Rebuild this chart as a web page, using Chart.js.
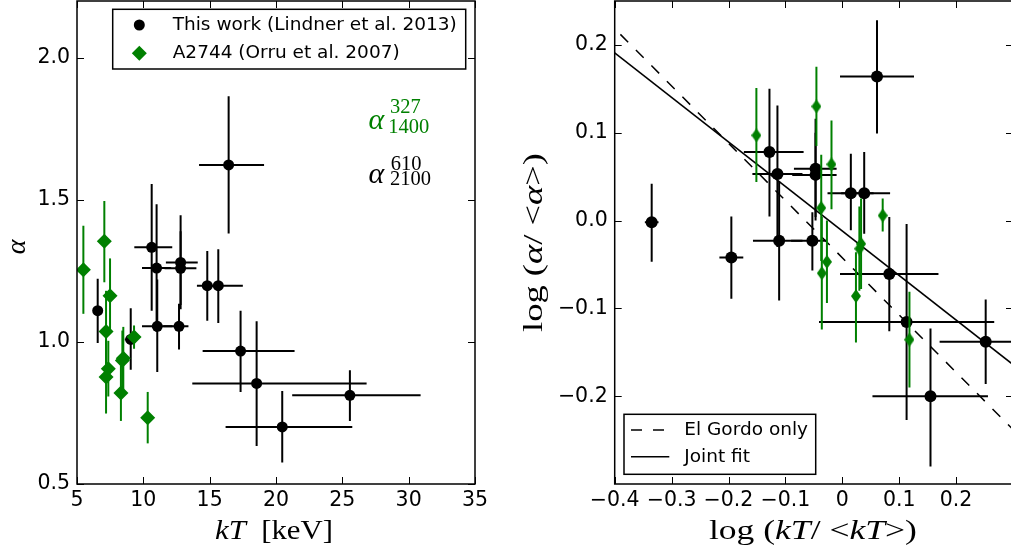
<!DOCTYPE html>
<html>
<head>
<meta charset="utf-8">
<script src="https://cdn.jsdelivr.net/npm/chart.js@4.4.1/dist/chart.umd.min.js"></script>
<style>
html, body { margin: 0; padding: 0; background: #fff; overflow: hidden; width: 1011px; height: 554px; }
canvas { position: absolute; top: 0; }
#left { left: 0; }
#right { left: 510px; }
</style>
</head>
<body>
<canvas id="left" width="500" height="554" style="width:500px;height:554px"></canvas>
<canvas id="right" width="510" height="554" style="width:510px;height:554px"></canvas>
<script>
// ---- left panel: alpha vs kT ----
const kT      = [6.56, 9.05, 10.63, 11.0, 11.05, 12.69, 12.81, 12.81, 14.82, 15.65, 16.43, 17.33, 18.54, 20.47, 25.57];
const kTLo    = [6.38, 8.6, 9.32, 9.9, 9.9, 11.5, 11.7, 11.6, 14.04, 14.8, 14.2, 14.47, 13.69, 16.2, 21.22];
const kTHi    = [6.74, 9.5, 12.18, 12.1, 12.2, 13.4, 14.1, 14.0, 15.5, 17.5, 19.1, 21.4, 26.83, 25.75, 30.9];
const alpha   = [1.11, 1.009, 1.333, 1.26, 1.055, 1.055, 1.28, 1.259, 1.198, 1.198, 1.623, 0.968, 0.854, 0.701, 0.812];
const alphaLo = [0.996, 0.902, 1.11, 1.035, 0.894, 0.973, 1.115, 1.13, 1.075, 1.067, 1.382, 0.824, 0.634, 0.576, 0.722];
const alphaHi = [1.222, 1.119, 1.556, 1.485, 1.22, 1.134, 1.446, 1.39, 1.32, 1.326, 1.865, 1.11, 1.073, 0.827, 0.9];

const kTA      = [5.48, 7.06, 7.49, 7.19, 7.36, 7.19, 8.49, 8.42, 8.31, 9.3, 10.33];
const alphaA   = [1.254, 1.354, 1.163, 1.037, 0.906, 0.877, 0.943, 0.935, 0.82, 1.017, 0.733];
const alphaALo = [1.099, 1.21, 1.03, 0.894, 0.808, 0.748, 0.833, 0.83, 0.722, 0.976, 0.643];
const alphaAHi = [1.409, 1.496, 1.294, 1.18, 1.004, 1.006, 1.053, 1.04, 0.918, 1.058, 0.824];

const kTTicks = [5, 10, 15, 20, 25, 30, 35];
const alphaTicks = [0.5, 1.0, 1.5, 2.0];

// ---- right panel: log(alpha/<alpha>) vs log(kT/<kT>) ----
const logKT   = [-0.335, -0.195, -0.128, -0.114, -0.111, -0.0526, -0.047, -0.047, 0.015, 0.0385, 0.061, 0.0826, 0.113, 0.155, 0.252];
const logKTLo = [-0.347, -0.216, -0.173, -0.158, -0.157, -0.09, -0.085, -0.088, -0.026, -0.002, -0.004, -0.004, -0.041, 0.053, 0.171];
const logKTHi = [-0.323, -0.174, -0.068, -0.07, -0.07, -0.027, -0.01, -0.01, 0.055, 0.084, 0.126, 0.169, 0.267, 0.256, 0.33];
const logA    = [-0.002, -0.042, 0.078, 0.053, -0.023, -0.023, 0.059, 0.052, 0.031, 0.031, 0.164, -0.061, -0.1155, -0.2, -0.138];
const logALo  = [-0.047, -0.089, 0.0045, -0.03, -0.091, -0.057, 0.004, 0.0, -0.011, -0.015, 0.099, -0.126, -0.227, -0.28, -0.186];
const logAHi  = [0.042, 0.0045, 0.150, 0.131, 0.045, 0.0095, 0.116, 0.1, 0.076, 0.078, 0.228, 0.004, -0.004, -0.123, -0.09];

const logKTA  = [-0.151, -0.0455, -0.019, -0.037, -0.027, -0.036, 0.033, 0.03, 0.024, 0.071, 0.118];
const logAA   = [0.097, 0.13, 0.064, 0.0144, -0.047, -0.06, -0.0265, -0.032, -0.086, 0.0057, -0.1356];
const logAALo = [0.044, 0.085, 0.013, -0.046, -0.094, -0.124, -0.078, -0.08, -0.139, -0.0125, -0.19];
const logAAHi = [0.151, 0.175, 0.114, 0.075, 0.0, 0.004, 0.025, 0.016, -0.036, 0.025, -0.081];

const gordoX = [-0.39, 0.3];
const gordoY = [0.212, -0.238];
const jointX = [-0.4, 0.3];
const jointY = [0.191, -0.164];

const logKTTicks = [-0.4, -0.3, -0.2, -0.1, 0.0, 0.1, 0.2];
const logATicks = [-0.2, -0.1, 0.0, 0.1, 0.2];

const GREEN = '#008000';
const SANS = '"DejaVu Sans"';
const SERIF = '"Liberation Serif"';

function pts(xs, ys) { return xs.map((x, i) => ({ x: x, y: ys[i] })); }
function fmt(v) { return (v < 0 ? '\u2212' : '') + Math.abs(v).toFixed(1); }

function thinDiamond(w, h, color) {
  const c = document.createElement('canvas');
  c.width = w; c.height = h;
  const g = c.getContext('2d');
  g.fillStyle = color;
  g.beginPath();
  g.moveTo(w / 2, 0); g.lineTo(w, h / 2); g.lineTo(w / 2, h); g.lineTo(0, h / 2);
  g.closePath(); g.fill();
  return c;
}

// error bars are drawn just before each dataset's own markers
const errorBars = {
  id: 'errorBars',
  beforeDatasetDraw(chart, args) {
    const ds = chart.data.datasets[args.index];
    if (!ds.err) return;
    const xs = chart.scales.x, ys = chart.scales.y, a = chart.chartArea, ctx = chart.ctx;
    ctx.save();
    ctx.beginPath(); ctx.rect(a.left, a.top, a.right - a.left, a.bottom - a.top); ctx.clip();
    ctx.strokeStyle = ds.borderColor;
    ctx.lineWidth = 2;
    ds.data.forEach((p, i) => {
      const px = xs.getPixelForValue(p.x), py = ys.getPixelForValue(p.y);
      ctx.beginPath();
      if (ds.err.yLo) {
        ctx.moveTo(px, ys.getPixelForValue(ds.err.yLo[i]));
        ctx.lineTo(px, ys.getPixelForValue(ds.err.yHi[i]));
      }
      if (ds.err.xLo) {
        ctx.moveTo(xs.getPixelForValue(ds.err.xLo[i]), py);
        ctx.lineTo(xs.getPixelForValue(ds.err.xHi[i]), py);
      }
      ctx.stroke();
    });
    ctx.restore();
  }
};

function drawRuns(ctx, t) {
  ctx.save();
  ctx.fillStyle = t.color || '#000';
  ctx.textBaseline = 'alphabetic';
  ctx.textAlign = 'left';
  const w = t.runs.map(r => { ctx.font = r.f; return ctx.measureText(r.t).width; });
  const total = w.reduce((s, v) => s + v, 0);
  const sx = t.width ? t.width / total : 1;
  ctx.translate(t.x, t.y);
  if (t.rotate) ctx.rotate(t.rotate);
  ctx.scale(sx, 1);
  let x0 = t.align === 'center' ? -total / 2 : 0;
  t.runs.forEach((r, i) => { ctx.font = r.f; ctx.fillText(r.t, x0, 0); x0 += w[i]; });
  ctx.restore();
}

// matplotlib-like frame: box, inward ticks on all sides, legend box, math texts
const mplFrame = {
  id: 'mplFrame',
  afterDraw(chart, args, opts) {
    const { ctx, chartArea: a, scales } = chart;
    ctx.save();
    ctx.strokeStyle = '#000';
    ctx.lineWidth = 1;
    const tl = 7;
    ctx.beginPath();
    scales.x.ticks.forEach(t => {
      const px = Math.round(scales.x.getPixelForValue(t.value)) + 0.5;
      ctx.moveTo(px, a.bottom); ctx.lineTo(px, a.bottom - tl);
      ctx.moveTo(px, a.top); ctx.lineTo(px, a.top + tl);
    });
    scales.y.ticks.forEach(t => {
      const py = Math.round(scales.y.getPixelForValue(t.value)) + 0.5;
      ctx.moveTo(a.left, py); ctx.lineTo(a.left + tl, py);
      ctx.moveTo(a.right, py); ctx.lineTo(a.right - tl, py);
    });
    ctx.stroke();
    ctx.lineWidth = 1.5;
    ctx.strokeRect(a.left, a.top, a.right - a.left, a.bottom - a.top);

    const lg = opts.legend;
    if (lg) {
      ctx.fillStyle = '#fff';
      ctx.fillRect(lg.box[0], lg.box[1], lg.box[2], lg.box[3]);
      ctx.lineWidth = 1.5;
      ctx.strokeStyle = '#000';
      ctx.strokeRect(lg.box[0], lg.box[1], lg.box[2], lg.box[3]);
      chart.data.datasets.forEach((ds, i) => {
        const y = lg.rows[i];
        if (y === undefined) return;
        if (ds.showLine) {
          ctx.save();
          ctx.strokeStyle = ds.borderColor;
          ctx.lineWidth = ds.borderWidth;
          ctx.setLineDash(ds.borderDash || []);
          ctx.beginPath(); ctx.moveTo(lg.lineX[0], y); ctx.lineTo(lg.lineX[1], y); ctx.stroke();
          ctx.restore();
        } else {
          ctx.fillStyle = ds.backgroundColor;
          ctx.beginPath();
          if (ds.pointStyle === 'rectRot') {
            const r = ds.pointRadius;
            ctx.moveTo(lg.markerX - r, y); ctx.lineTo(lg.markerX, y - r);
            ctx.lineTo(lg.markerX + r, y); ctx.lineTo(lg.markerX, y + r);
          } else {
            ctx.arc(lg.markerX, y, ds.pointRadius, 0, Math.PI * 2);
          }
          ctx.fill();
        }
        ctx.fillStyle = '#000';
        ctx.font = '18.5px ' + SANS;
        ctx.textBaseline = 'middle';
        ctx.textAlign = 'left';
        ctx.fillText(ds.label, lg.textX, y);
      });
    }
    (opts.texts || []).forEach(t => drawRuns(ctx, t));
    ctx.restore();
  }
};

function axis(min, max, ticks, size, horizontal) {
  return {
    type: 'linear', min: min, max: max,
    grid: { display: false, drawTicks: false },
    border: { display: false },
    afterBuildTicks: s => { s.ticks = ticks.map(v => ({ value: v })); },
    afterFit: s => {
      if (horizontal) s.height = size; else s.width = size;
      s.paddingTop = 0; s.paddingBottom = 0; s.paddingLeft = 0; s.paddingRight = 0;
    },
    ticks: {
      color: '#000', font: { family: SANS, size: 20.5 },
      padding: horizontal ? 4 : 7, autoSkip: false, maxRotation: 0,
      callback: v => horizontal && Number.isInteger(v) ? String(v) : fmt(v)
    }
  };
}

const roman = '28px ' + SERIF, ital = 'italic 28px ' + SERIF;
const small = '20.5px ' + SERIF, alphaFont = 'italic 30px ' + SERIF;

new Chart(document.getElementById('left'), {
  type: 'scatter',
  data: {
    datasets: [
      { label: 'This work (Lindner et al. 2013)', data: pts(kT, alpha), backgroundColor: '#000', borderColor: '#000',
        pointRadius: 5.5, pointBorderWidth: 0, order: 2,
        err: { xLo: kTLo, xHi: kTHi, yLo: alphaLo, yHi: alphaHi } },
      { label: 'A2744 (Orru et al. 2007)', data: pts(kTA, alphaA), pointStyle: 'rectRot', backgroundColor: GREEN, borderColor: GREEN,
        pointRadius: 7.5, pointBorderWidth: 0, order: 1,
        err: { yLo: alphaALo, yHi: alphaAHi } }
    ]
  },
  options: {
    responsive: false, animation: false, events: [],
    layout: { autoPadding: false, padding: { left: 0, top: 1, right: 25, bottom: 0 } },
    scales: { x: axis(5, 35, kTTicks, 70, true), y: axis(0.5, 2.2, alphaTicks, 77, false) },
    plugins: {
      legend: { display: false }, tooltip: { enabled: false },
      mplFrame: {
        legend: { box: [112.7, 9.3, 353, 59.7], rows: [25, 53.3], markerX: 139.3, textX: 172.7 },
        texts: [
          { runs: [{ t: 'kT', f: ital }, { t: '  [keV]', f: roman }], x: 274, y: 539, width: 118, align: 'center' },
          { runs: [{ t: '\u03b1', f: ital }], x: 25, y: 247, rotate: -Math.PI / 2, align: 'center' },
          { runs: [{ t: '\u03b1', f: alphaFont }], x: 368.5, y: 128.5, color: GREEN },
          { runs: [{ t: '327', f: small }], x: 390, y: 113.3, color: GREEN },
          { runs: [{ t: '1400', f: small }], x: 388.3, y: 133.3, color: GREEN },
          { runs: [{ t: '\u03b1', f: alphaFont }], x: 368.5, y: 183 },
          { runs: [{ t: '610', f: small }], x: 390.7, y: 170 },
          { runs: [{ t: '2100', f: small }], x: 390, y: 185 }
        ]
      }
    }
  },
  plugins: [errorBars, mplFrame]
});

new Chart(document.getElementById('right'), {
  type: 'scatter',
  data: {
    datasets: [
      { label: 'El Gordo only', data: pts(gordoX, gordoY), showLine: true, pointRadius: 0,
        borderColor: '#000', borderWidth: 1.5, borderDash: [11, 11], order: 3 },
      { label: 'Joint fit', data: pts(jointX, jointY), showLine: true, pointRadius: 0,
        borderColor: '#000', borderWidth: 1.5, order: 4 },
      { label: 'El Gordo', data: pts(logKT, logA), backgroundColor: '#000', borderColor: '#000',
        pointRadius: 6, pointBorderWidth: 0, order: 2,
        err: { xLo: logKTLo, xHi: logKTHi, yLo: logALo, yHi: logAHi } },
      { label: 'A2744', data: pts(logKTA, logAA), pointStyle: thinDiamond(10, 14, GREEN), backgroundColor: GREEN, borderColor: GREEN,
        pointRadius: 7, pointBorderWidth: 0, order: 1,
        err: { yLo: logAALo, yHi: logAAHi } }
    ]
  },
  options: {
    responsive: false, animation: false, events: [],
    layout: { autoPadding: false, padding: { left: 0, top: 1, right: 7, bottom: 0 } },
    scales: { x: axis(-0.4, 0.3, logKTTicks, 70, true), y: axis(-0.3, 0.25, logATicks, 104.7, false) },
    plugins: {
      legend: { display: false }, tooltip: { enabled: false },
      mplFrame: {
        legend: { box: [114, 414.3, 191.7, 60], rows: [430, 456.7], lineX: [121, 159.3], textX: 174.3 },
        texts: [
          { runs: [{ t: 'log (', f: roman }, { t: 'kT', f: ital }, { t: '/ <', f: roman }, { t: 'kT', f: ital }, { t: '>)', f: roman }],
            x: 302.9, y: 539, width: 208, align: 'center' },
          { runs: [{ t: 'log (', f: roman }, { t: '\u03b1', f: ital }, { t: '/ <', f: roman }, { t: '\u03b1', f: ital }, { t: '>)', f: roman }],
            x: 32, y: 242.5, width: 179, rotate: -Math.PI / 2, align: 'center' }
        ]
      }
    }
  },
  plugins: [errorBars, mplFrame]
});
</script>
</body>
</html>
